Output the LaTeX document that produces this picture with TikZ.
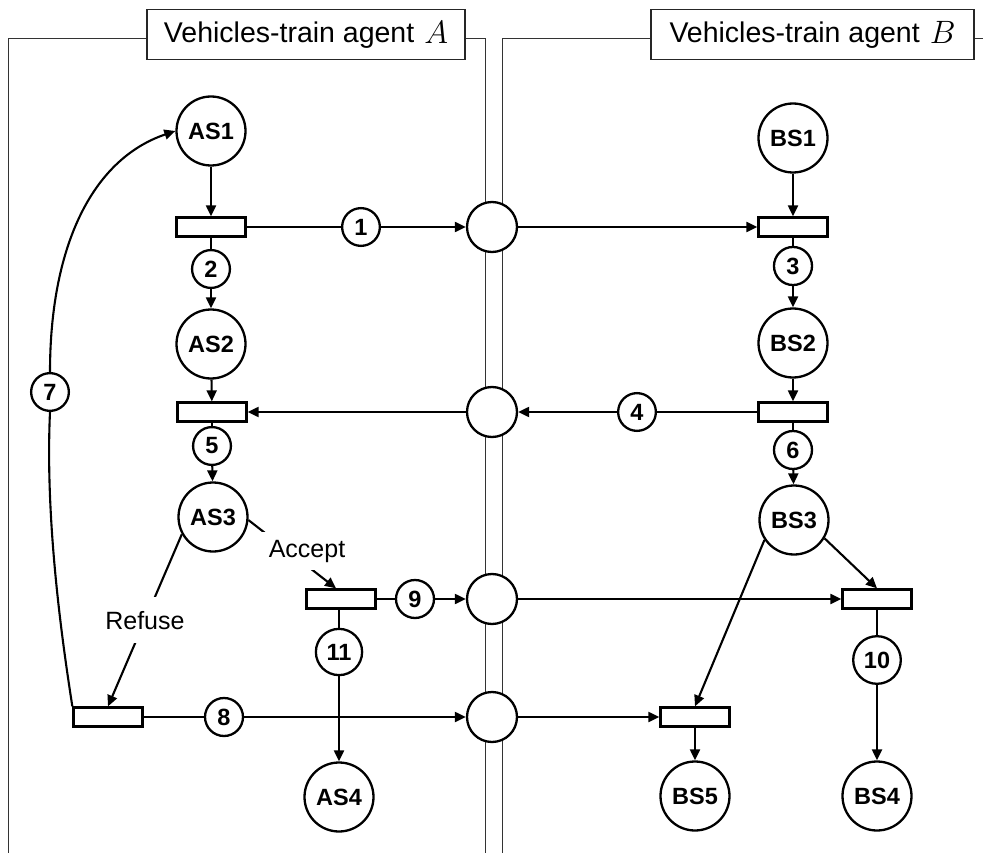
\documentclass[tikz,border=0pt]{standalone}
\usepackage{fontspec}
\usepackage{graphicx}
\setsansfont{Liberation Sans}
\usetikzlibrary{arrows.meta,calc}
\begin{document}
\begin{tikzpicture}[x=1pt,y=-1pt,
  frameline/.style={line width=1pt, draw=black!80},
  hdr/.style={draw=black!85, line width=1.2pt, fill=white, minimum height=50pt, inner sep=0pt, font=\fontsize{28.5}{31}\selectfont\sffamily},
  place/.style={circle, draw, line width=2.3pt, fill=white, minimum size=69pt, inner sep=0pt, font=\fontsize{23.5}{26}\selectfont\sffamily\bfseries},
  port/.style={circle, draw, line width=2.3pt, fill=white, minimum size=50pt, inner sep=0pt},
  trans/.style={rectangle, draw, line width=2.3pt, fill=white, minimum width=69pt, minimum height=19pt, inner sep=0pt},
  num/.style={circle, draw, line width=2.3pt, fill=white, inner sep=6pt, font=\fontsize{23.5}{26}\selectfont\sffamily\bfseries},
  lbl/.style={fill=white, font=\fontsize{25}{28}\selectfont\sffamily},
  arc/.style={line width=2.1pt, -{Triangle[length=11pt,width=10pt]}},
  seg/.style={line width=2.1pt},
]
\useasboundingbox (0,0) rectangle (983,853);
\clip (0,0) rectangle (983,853);
% frames
\draw[frameline] (8,860) -- (8,39) -- (485,39) -- (485,860);
\draw[frameline] (502,860) -- (502,39) -- (995,39);
\node[hdr, minimum width=318pt] (hA) at (306,34.5) {Vehicles-train agent\hspace{10pt}\raisebox{-1pt}{\scalebox{1.3}{$A$}}};
\node[hdr, minimum width=323pt] (hB) at (812.5,34.5) {Vehicles-train agent\hspace{10pt}\raisebox{-1pt}{\scalebox{1.3}{$B$}}};
% places A
\node[place] (AS1) at (211,131) {AS1};
\node[place] (AS2) at (211,344) {AS2};
\node[place] (AS3) at (213,517) {AS3};
\node[place] (AS4) at (339,797) {AS4};
% places B
\node[place] (BS1) at (793,138) {BS1};
\node[place] (BS2) at (793,343) {BS2};
\node[place] (BS3) at (794,520) {BS3};
\node[place] (BS4) at (877,796) {BS4};
\node[place] (BS5) at (695,796) {BS5};
% shared places
\node[port] (C1) at (492,227) {};
\node[port] (C2) at (492,412) {};
\node[port] (C3) at (492,599) {};
\node[port] (C4) at (492,717) {};
% transitions
\node[trans] (T1) at (211,227) {};
\node[trans] (T2) at (212,412) {};
\node[trans] (TR) at (108,717) {};
\node[trans] (T9) at (341,599) {};
\node[trans] (TB1) at (793,227) {};
\node[trans] (TB2) at (793,412) {};
\node[trans] (TB10) at (877,599) {};
\node[trans] (TB5) at (695,717) {};
% numbers
\node[num] (n1) at (361,227) {1};
\node[num] (n2) at (211,269) {2};
\node[num] (n3) at (793,266) {3};
\node[num] (n4) at (637,412) {4};
\node[num] (n5) at (212,446) {5};
\node[num] (n6) at (793,450) {6};
\node[num] (n7) at (50,392) {7};
\node[num] (n8) at (224,717) {8};
\node[num] (n9) at (415,599) {9};
\node[num] (n10) at (877,660) {10};
\node[num] (n11) at (339,652) {11};
% connectors A column
\draw[arc] (AS1) -- (T1);
\draw[seg] (T1) -- (n2); \draw[arc] (n2) -- (AS2);
\draw[seg] (T1) -- (n1); \draw[arc] (n1) -- (C1);
\draw[arc] (AS2) -- (T2);
\draw[seg] (T2) -- (n5); \draw[arc] (n5) -- (AS3);
\draw[arc] (C2) -- (T2);
% B column
\draw[arc] (C1) -- (TB1);
\draw[arc] (BS1) -- (TB1);
\draw[seg] (TB1) -- (n3); \draw[arc] (n3) -- (BS2);
\draw[arc] (BS2) -- (TB2);
\draw[seg] (TB2) -- (n4); \draw[arc] (n4) -- (C2);
\draw[seg] (TB2) -- (n6); \draw[arc] (n6) -- (BS3);
\draw[arc] (BS3.329) -- (TB10.north);
\draw[arc] (BS3.214) -- (TB5.north);
\draw[seg] (TB10) -- (n10); \draw[arc] (n10) -- (BS4);
\draw[arc] (TB5) -- (BS5);
% lower rows
\draw[seg] (T9) -- (n9); \draw[arc] (n9) -- (C3); \draw[arc] (C3) -- (TB10);
\draw[seg] (T9.south -| n11) -- (n11); \draw[arc] (n11) -- (AS4);
\draw[seg] (TR) -- (n8); \draw[arc] (n8) -- (C4); \draw[arc] (C4) -- (TB5);
% choices
\draw[arc] (AS3.209) -- node[lbl, inner xsep=4pt, inner ysep=14pt] (ref) {Refuse} (TR.north);
\draw[arc] (AS3.-5) -- ($(T9.north)+(-5,0)$);
\node[lbl, inner sep=8pt] (acc) at (307,551) {Accept};
% loop back
\draw[seg] (TR.north west) .. controls (62,640) and (45,520) .. (n7.south);
\draw[arc] (n7.north) .. controls (50,250) and (90,160) .. (AS1.west);
\end{tikzpicture}
\end{document}
